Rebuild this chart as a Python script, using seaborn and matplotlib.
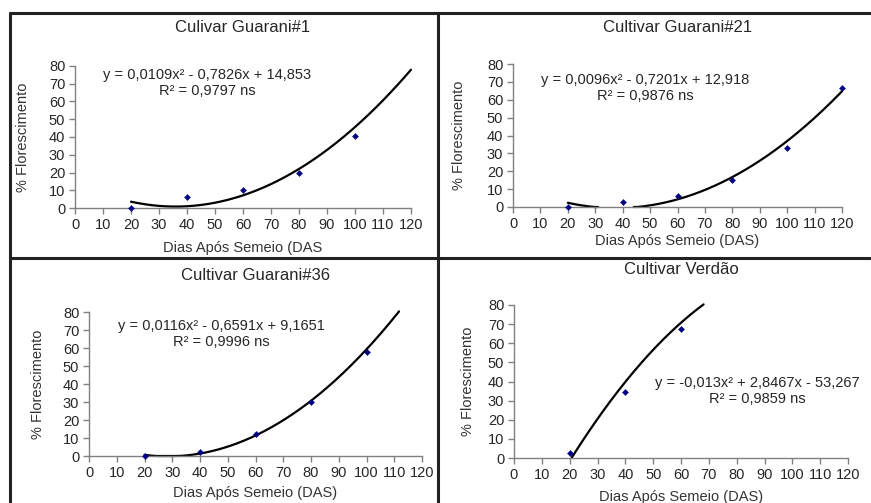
import numpy as np
import pandas as pd
import matplotlib
matplotlib.use("Agg")
import matplotlib.pyplot as plt
from matplotlib.lines import Line2D
import seaborn as sns

sns.set_style("white")
plt.rcParams['font.family'] = ['Liberation Sans', 'DejaVu Sans']

# Panel titles
titles = ["Culivar Guarani#1", "Cultivar Guarani#21", "Cultivar Guarani#36", "Cultivar Verdão"]
xlabels = ["Dias Após Semeio (DAS", "Dias Após Semeio (DAS)", "Dias Após Semeio (DAS)", "Dias Após Semeio (DAS)"]

# Observed points (DAS, % florescimento)
das_g1 = [20, 40, 60, 80, 100]
flor_g1 = [0, 6, 10, 19.5, 40.5]
das_g21 = [20, 40, 60, 80, 100, 120]
flor_g21 = [0, 3, 6, 15, 33, 66.5]
das_g36 = [20, 40, 60, 80, 100]
flor_g36 = [0, 2.5, 12, 30, 58]
das_verdao = [20, 40, 60]
flor_verdao = [2.5, 34.5, 67.5]

# Polynomial trend line coefficients (a, b, c) from the chart equations
coef_g1 = [0.0109, -0.7826, 14.853]
coef_g21 = [0.0096, -0.7201, 12.918]
coef_g36 = [0.0116, -0.6591, 9.1651]
coef_verdao = [-0.013, 2.8467, -53.267]

equations = [
    "y = 0,0109x² - 0,7826x + 14,853\nR² = 0,9797 ns",
    "y = 0,0096x² - 0,7201x + 12,918\nR² = 0,9876 ns",
    "y = 0,0116x² - 0,6591x + 9,1651\nR² = 0,9996 ns",
    "y = -0,013x² + 2,8467x - 53,267\nR² = 0,9859 ns",
]

W, H = 871, 503
fig = plt.figure(figsize=(W / 100, H / 100), dpi=100)

# axes boxes in pixels: left, right, top, bottom
boxes = [(75, 411, 66, 208), (513, 842, 64, 207), (89, 422, 312, 456), (514, 848, 305, 458)]
title_y = [28, 28, 276, 269]
xlabel_y = [248, 241, 493, 497]
ylabel_x = [30, 466, 45, 475]
eq_pos = [(207, 83), (645, 88), (221, 334), (757, 391)]

panels = [
    (das_g1, flor_g1, coef_g1),
    (das_g21, flor_g21, coef_g21),
    (das_g36, flor_g36, coef_g36),
    (das_verdao, flor_verdao, coef_verdao),
]

for i, (das, flor, coef) in enumerate(panels):
    l, r, t, b = boxes[i]
    ax = fig.add_axes([l / W, 1 - b / H, (r - l) / W, (b - t) / H])
    xs = np.linspace(20, 120, 400)
    ys = np.polyval(coef, xs)
    # tiny dips below zero sit on the axis, deeper ones are hidden
    ys = np.where((ys < -0.2) | (ys > 80.5), np.nan, np.clip(ys, 0, None))
    curve = pd.DataFrame({"x": xs, "y": ys})
    ax.plot(curve["x"], curve["y"], color="black", lw=1.6, clip_on=False)
    pts = pd.DataFrame({"das": das, "flor": flor})
    sns.scatterplot(data=pts, x="das", y="flor", ax=ax, marker="D", s=10,
                    color="#000080", edgecolor="#000080", zorder=5, clip_on=False)
    ax.set_xlim(0, 120)
    ax.set_ylim(0, 80)
    ax.set_xticks(range(0, 121, 10))
    ax.set_yticks(range(0, 81, 10))
    for side in ["top", "right"]:
        ax.spines[side].set_visible(False)
    for side in ["left", "bottom"]:
        ax.spines[side].set_color("#808080")
        ax.spines[side].set_linewidth(1.0)
    ax.tick_params(axis="both", direction="out", length=4, width=1, color="#808080",
                   labelsize=10.5, pad=3, left=True, bottom=True)
    ax.set_xlabel("")
    ax.set_ylabel("% Florescimento", fontsize=10.5, color="#333333")
    ax.yaxis.set_label_coords((ylabel_x[i] - l) / (r - l), 0.5)
    cx = (l + r) / 2
    fig.text(cx / W, 1 - title_y[i] / H, titles[i], ha="center", va="center", fontsize=12)
    fig.text(cx / W, 1 - xlabel_y[i] / H, xlabels[i], ha="center", va="center",
             fontsize=10.5, color="#333333")
    ex, ey = eq_pos[i]
    fig.text(ex / W, 1 - ey / H, equations[i], ha="center", va="center",
             fontsize=10.5, linespacing=1.2)

# panel frame lines
frame = dict(color="#222222", lw=2.2, transform=fig.transFigure)
fig.add_artist(Line2D([10 / W, 10 / W], [1 - 13 / H, 0], **frame))
fig.add_artist(Line2D([10 / W, 1], [1 - 13 / H, 1 - 13 / H], **frame))
fig.add_artist(Line2D([438 / W, 438 / W], [1 - 13 / H, 0], **frame))
fig.add_artist(Line2D([10 / W, 870 / W], [1 - 258 / H, 1 - 258 / H], **frame))

fig.savefig("out.png", dpi=100)
